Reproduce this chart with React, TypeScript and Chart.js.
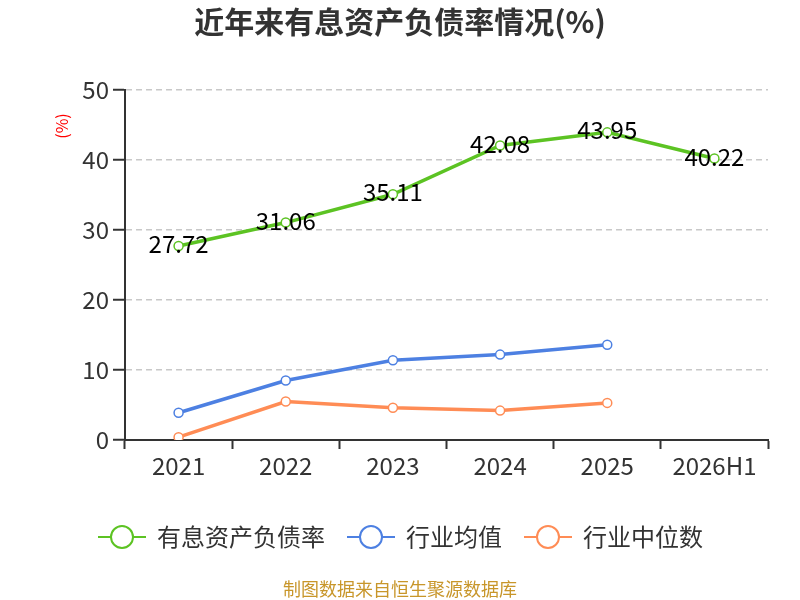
import { useEffect, useRef } from 'react'
import { Chart, registerables } from 'chart.js'
import type { Plugin } from 'chart.js'

Chart.register(...registerables)

const years = ['2021', '2022', '2023', '2024', '2025', '2026H1']
const debtRatio = [27.72, 31.06, 35.11, 42.08, 43.95, 40.22]
const industryMean = [3.9, 8.5, 11.4, 12.2, 13.6, null]
const industryMedian = [0.4, 5.5, 4.6, 4.2, 5.3, null]
const seriesNames = ['有息资产负债率', '行业均值', '行业中位数']
const seriesColors = ['#5cc323', '#4d80e2', '#ff8c55']
const yTicks = [0, 10, 20, 30, 40, 50]

const FONT = '"Noto Sans CJK SC", "Noto Sans", sans-serif'

// title, unit label, point labels, legend and source line
const decorations: Plugin<'line'> = {
    id: 'decorations',
    afterDatasetsDraw(chart) {
        const ctx = chart.ctx
        ctx.save()

        ctx.fillStyle = '#333'
        ctx.font = `bold 30px ${FONT}`
        ctx.textAlign = 'center'
        ctx.textBaseline = 'middle'
        ctx.fillText('近年来有息资产负债率情况(%)', 400, 22)

        ctx.save()
        ctx.translate(62, 126)
        ctx.rotate(-Math.PI / 2)
        ctx.fillStyle = '#ff0000'
        ctx.font = `16px ${FONT}`
        ctx.fillText('(%)', 0, 0)
        ctx.restore()

        // values on the main series
        const meta = chart.getDatasetMeta(0)
        ctx.fillStyle = '#000'
        ctx.font = `24px ${FONT}`
        meta.data.forEach((pt, i) => {
            ctx.fillText(debtRatio[i].toFixed(2), pt.x, pt.y - 2)
        })

        // legend
        const starts = [98, 347, 524]
        ctx.font = `24px ${FONT}`
        ctx.textAlign = 'left'
        seriesNames.forEach((name, i) => {
            const x = starts[i]
            const y = 537
            ctx.strokeStyle = seriesColors[i]
            ctx.lineWidth = 2
            ctx.beginPath()
            ctx.moveTo(x, y)
            ctx.lineTo(x + 48, y)
            ctx.stroke()
            ctx.beginPath()
            ctx.arc(x + 24, y, 11, 0, Math.PI * 2)
            ctx.fillStyle = '#fff'
            ctx.fill()
            ctx.stroke()
            ctx.fillStyle = '#333'
            ctx.fillText(name, x + 59, y)
        })

        ctx.fillStyle = '#c8962a'
        ctx.font = `18px ${FONT}`
        ctx.textAlign = 'center'
        ctx.fillText('制图数据来自恒生聚源数据库', 400, 589)

        ctx.restore()
    },
}

function makeSet(label: string, data: (number | null)[], color: string) {
    return {
        label,
        data,
        borderColor: color,
        backgroundColor: '#fff',
        pointBackgroundColor: '#fff',
        pointBorderColor: color,
        pointRadius: 4.5,
        pointBorderWidth: 1.5,
        borderWidth: 3.5,
        tension: 0,
        spanGaps: false,
    }
}

export default function App() {
    const canvasRef = useRef<HTMLCanvasElement>(null)
    const chartRef = useRef<Chart | null>(null)

    useEffect(() => {
        document.body.style.margin = '0'
        if (!canvasRef.current) return
        if (chartRef.current) chartRef.current.destroy()

        chartRef.current = new Chart(canvasRef.current, {
            type: 'line',
            data: {
                labels: years,
                datasets: [
                    makeSet(seriesNames[0], debtRatio, seriesColors[0]),
                    makeSet(seriesNames[1], industryMean, seriesColors[1]),
                    makeSet(seriesNames[2], industryMedian, seriesColors[2]),
                ],
            },
            options: {
                responsive: false,
                animation: false,
                layout: { padding: { top: 90, right: 32, bottom: 110, left: 0 } },
                plugins: {
                    legend: { display: false },
                    tooltip: { enabled: false },
                    title: { display: false },
                },
                scales: {
                    x: {
                        offset: true,
                        afterFit: s => { s.height = 50 },
                        grid: {
                            offset: true,
                            drawOnChartArea: false,
                            drawTicks: true,
                            tickLength: 9,
                            tickColor: '#333',
                            tickWidth: 2,
                        },
                        border: { color: '#333', width: 2 },
                        ticks: { color: '#333', font: { size: 24, family: FONT }, padding: 2 },
                    },
                    y: {
                        min: 0,
                        max: 50,
                        afterFit: s => { s.width = 125 },
                        afterBuildTicks: s => { s.ticks = yTicks.map(v => ({ value: v })) },
                        grid: {
                            color: '#c8c8c8',
                            lineWidth: 1.5,
                            tickLength: 12,
                            tickColor: '#333',
                            tickWidth: 2,
                        },
                        border: { color: '#333', width: 2, dash: [6, 4] },
                        ticks: { color: '#333', font: { size: 24, family: FONT }, padding: 4 },
                    },
                },
            },
            plugins: [decorations],
        })

        return () => { chartRef.current?.destroy() }
    }, [])

    return (
        <div style={{ width: 800, height: 600, background: '#fff' }}>
            <canvas ref={canvasRef} width={800} height={600} />
        </div>
    )
}
